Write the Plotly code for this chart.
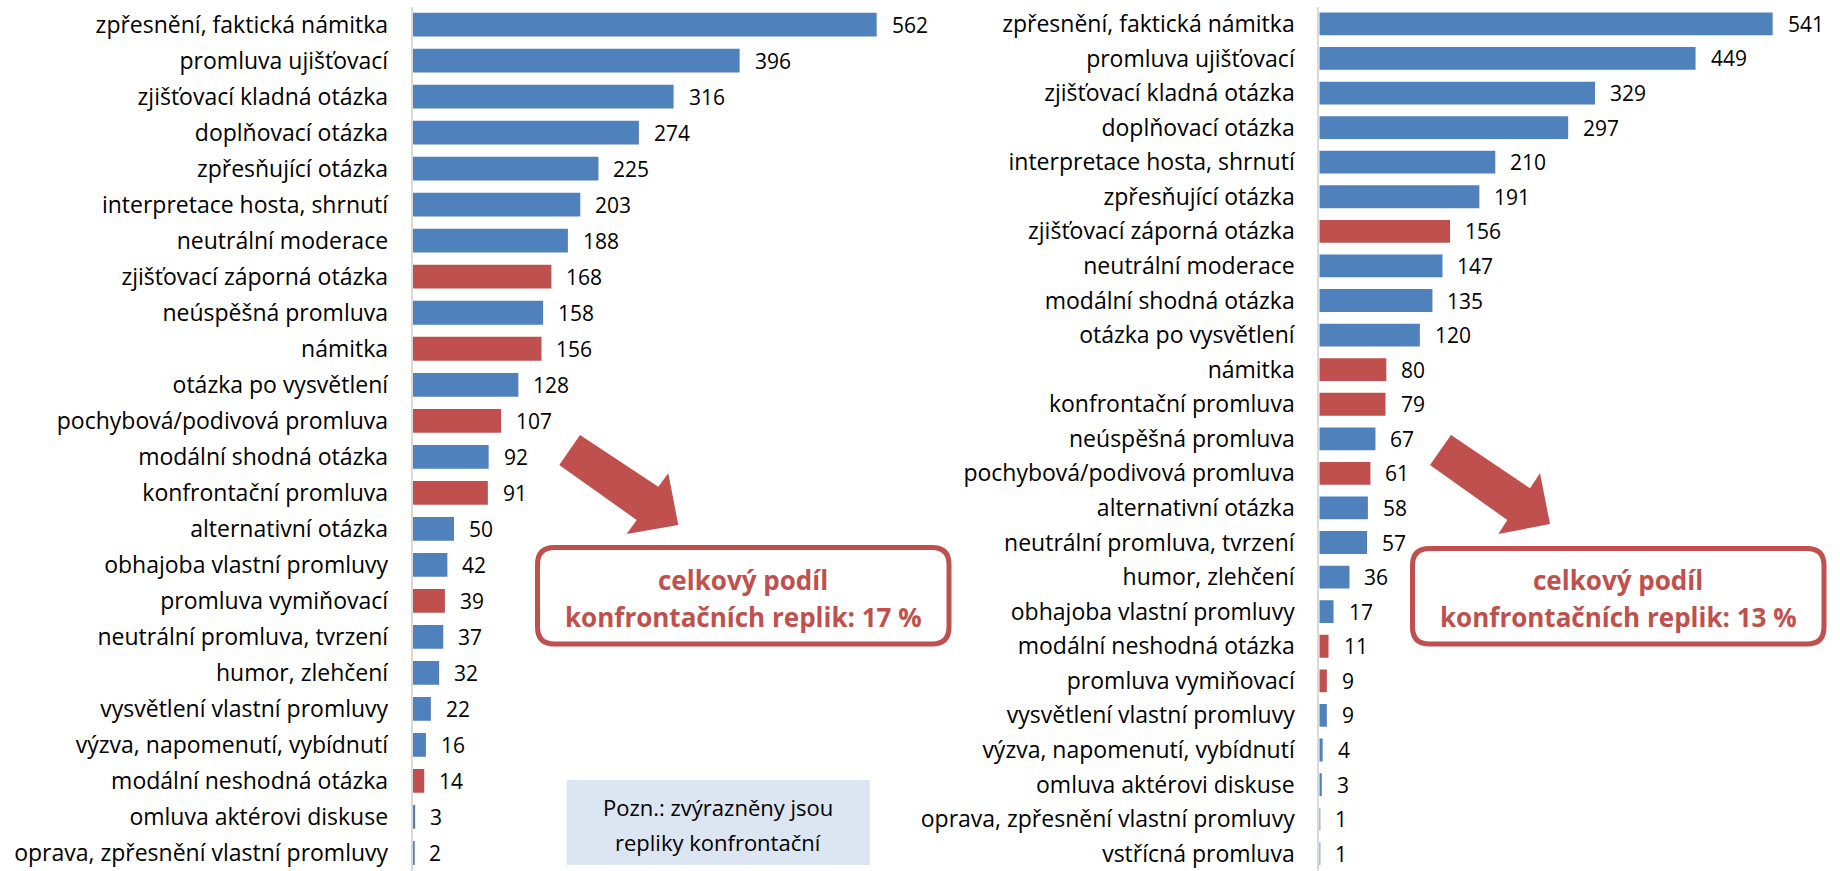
import plotly.graph_objects as go

W, H = 1840, 871

# ---- data ----
left_categories = [
    "zpřesnění, faktická námitka", "promluva ujišťovací", "zjišťovací kladná otázka",
    "doplňovací otázka", "zpřesňující otázka", "interpretace hosta, shrnutí",
    "neutrální moderace", "zjišťovací záporná otázka", "neúspěšná promluva",
    "námitka", "otázka po vysvětlení", "pochybová/podivová promluva",
    "modální shodná otázka", "konfrontační promluva", "alternativní otázka",
    "obhajoba vlastní promluvy", "promluva vymiňovací", "neutrální promluva, tvrzení",
    "humor, zlehčení", "vysvětlení vlastní promluvy", "výzva, napomenutí, vybídnutí",
    "modální neshodná otázka", "omluva aktérovi diskuse", "oprava, zpřesnění vlastní promluvy",
]
left_values = [562, 396, 316, 274, 225, 203, 188, 168, 158, 156, 128, 107,
               92, 91, 50, 42, 39, 37, 32, 22, 16, 14, 3, 2]

right_categories = [
    "zpřesnění, faktická námitka", "promluva ujišťovací", "zjišťovací kladná otázka",
    "doplňovací otázka", "interpretace hosta, shrnutí", "zpřesňující otázka",
    "zjišťovací záporná otázka", "neutrální moderace", "modální shodná otázka",
    "otázka po vysvětlení", "námitka", "konfrontační promluva", "neúspěšná promluva",
    "pochybová/podivová promluva", "alternativní otázka", "neutrální promluva, tvrzení",
    "humor, zlehčení", "obhajoba vlastní promluvy", "modální neshodná otázka",
    "promluva vymiňovací", "vysvětlení vlastní promluvy", "výzva, napomenutí, vybídnutí",
    "omluva aktérovi diskuse", "oprava, zpřesnění vlastní promluvy", "vstřícná promluva",
]
right_values = [541, 449, 329, 297, 210, 191, 156, 147, 135, 120, 80, 79, 67,
                61, 58, 57, 36, 17, 11, 9, 9, 4, 3, 1, 1]

confrontational = [
    "zjišťovací záporná otázka", "námitka", "pochybová/podivová promluva",
    "konfrontační promluva", "promluva vymiňovací", "modální neshodná otázka",
]

left_share_text = ["celkový podíl", "konfrontačních replik: 17 %"]
right_share_text = ["celkový podíl", "konfrontačních replik: 13 %"]
note_text = ["Pozn.: zvýrazněny jsou", "repliky konfrontační"]

BLUE = "#4F81BD"
RED = "#C0504D"
FONT = "Open Sans"

def colors(cats):
    return [RED if c in confrontational else BLUE for c in cats]

def px(x):
    return x / W

def py(y):
    return 1 - y / H

fig = go.Figure()
fig.add_trace(go.Bar(x=left_values, y=left_categories, orientation="h",
                     marker=dict(color=colors(left_categories), line=dict(width=0)),
                     xaxis="x", yaxis="y", showlegend=False, hoverinfo="x+y"))
fig.add_trace(go.Bar(x=right_values, y=right_categories, orientation="h",
                     marker=dict(color=colors(right_categories), line=dict(width=0)),
                     xaxis="x2", yaxis="y2", showlegend=False, hoverinfo="x+y"))

ytop = 1 - 6.6 / H
left_x0, left_x1 = 412.7, 1000.0
right_x0, right_x1 = 1319.3, 1840.0
left_scale = 0.8256
right_scale = 0.838

tickfont = dict(family=FONT, size=23, color="#000000")

fig.update_layout(
    width=W, height=H,
    margin=dict(l=0, r=0, t=0, b=0),
    paper_bgcolor="white", plot_bgcolor="white",
    bargap=0.34,
    font=dict(family=FONT),
    xaxis=dict(domain=[px(left_x0), px(left_x1)],
               range=[0, (left_x1 - left_x0) / left_scale],
               showgrid=False, zeroline=False, showticklabels=False, showline=False,
               fixedrange=True),
    yaxis=dict(domain=[0, ytop], anchor="x", type="category",
               categoryorder="array", categoryarray=left_categories,
               autorange="reversed", showgrid=False, showline=True,
               linecolor="#D9D9D9", linewidth=2, ticks="",
               ticklabelstandoff=18, tickfont=tickfont, fixedrange=True),
    xaxis2=dict(domain=[px(right_x0), px(right_x1)],
                range=[0, (right_x1 - right_x0) / right_scale],
                anchor="y2",
                showgrid=False, zeroline=False, showticklabels=False, showline=False,
                fixedrange=True),
    yaxis2=dict(domain=[0, ytop], anchor="x2", type="category",
                categoryorder="array", categoryarray=right_categories,
                autorange="reversed", showgrid=False, showline=True,
                linecolor="#D9D9D9", linewidth=2, ticks="",
                ticklabelstandoff=18, tickfont=tickfont, fixedrange=True),
)

annotations = []
for c, v in zip(left_categories, left_values):
    annotations.append(dict(x=v, y=c, xref="x", yref="y", text=str(v), showarrow=False,
                            xanchor="left", yanchor="middle", xshift=13,
                            font=dict(family=FONT, size=21, color="#000000")))
for c, v in zip(right_categories, right_values):
    annotations.append(dict(x=v, y=c, xref="x2", yref="y2", text=str(v), showarrow=False,
                            xanchor="left", yanchor="middle", xshift=13,
                            font=dict(family=FONT, size=21, color="#000000")))

# ---- decorations: arrows, boxes ----
def poly(points):
    return "M " + " L ".join(f"{px(x):.5f},{py(y):.5f}" for x, y in points) + " Z"

def rounded_rect(x0, y0, x1, y1, r):
    p = lambda x, y: f"{px(x):.5f},{py(y):.5f}"
    return (f"M {p(x0 + r, y0)} L {p(x1 - r, y0)} Q {p(x1, y0)} {p(x1, y0 + r)} "
            f"L {p(x1, y1 - r)} Q {p(x1, y1)} {p(x1 - r, y1)} "
            f"L {p(x0 + r, y1)} Q {p(x0, y1)} {p(x0, y1 - r)} "
            f"L {p(x0, y0 + r)} Q {p(x0, y0)} {p(x0 + r, y0)} Z")

shapes = []
left_arrow = [(580, 435), (658.3, 486.7), (668.3, 473.3), (678.3, 525),
              (626.7, 534), (636.7, 520), (559.3, 465)]
right_arrow = [(1451, 435), (1530, 488.3), (1540, 473.3), (1550, 524),
               (1498.3, 534), (1507.3, 520), (1430, 465)]
for pts in (left_arrow, right_arrow):
    shapes.append(dict(type="path", xref="paper", yref="paper", path=poly(pts),
                       fillcolor=RED, line=dict(width=0), layer="above"))

boxes = [((537.5, 547.5, 949, 644), left_share_text, 743.3),
         ((1412.5, 548.5, 1824, 644), right_share_text, 1618.3)]
for (x0, y0, x1, y1), txt, cx in boxes:
    shapes.append(dict(type="path", xref="paper", yref="paper",
                       path=rounded_rect(x0, y0, x1, y1, 17),
                       fillcolor="white", line=dict(color=RED, width=5), layer="above"))
    for line_txt, ly in zip(txt, (580, 617)):
        annotations.append(dict(x=px(cx), y=py(ly), xref="paper", yref="paper",
                                text=f"<b>{line_txt}</b>", showarrow=False,
                                xanchor="center", yanchor="middle",
                                font=dict(family=FONT, size=26, color=RED)))

# note box
shapes.append(dict(type="rect", xref="paper", yref="paper",
                   x0=px(566.7), x1=px(870), y0=py(865), y1=py(780),
                   fillcolor="#DCE6F2", line=dict(width=0), layer="above"))
for line_txt, ly in zip(note_text, (806.7, 841.7)):
    annotations.append(dict(x=px(718.3), y=py(ly), xref="paper", yref="paper",
                            text=line_txt, showarrow=False,
                            xanchor="center", yanchor="middle",
                            font=dict(family=FONT, size=22, color="#000000")))

fig.update_layout(shapes=shapes, annotations=annotations)

fig.write_html("out.html", config={"displayModeBar": False},
               post_script="document.body.style.margin='0px';document.body.style.overflow='hidden';")
